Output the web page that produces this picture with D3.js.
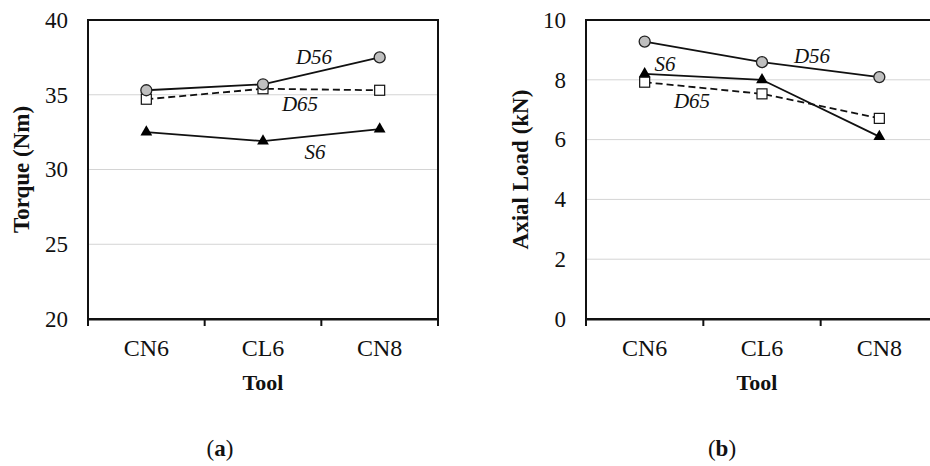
<!DOCTYPE html>
<html>
<head>
<meta charset="utf-8">
<script src="https://cdn.jsdelivr.net/npm/d3@7"></script>
<style>
  body { margin: 0; background: #fff; }
  svg { display: block; }
  svg text { font-family: "Liberation Serif", "Times New Roman", serif; fill: #111; }
</style>
</head>
<body>
<svg id="chart" width="930" height="466"></svg>
<script>
const tools = ['CN6', 'CL6', 'CN8'];

// panel (a) torque, Nm
const torqueD56 = [35.3, 35.7, 37.5];
const torqueD65 = [34.7, 35.4, 35.3];
const torqueS6 = [32.5, 31.9, 32.7];
const torqueTicks = [20, 25, 30, 35, 40];

// panel (b) axial load, kN
const loadD56 = [9.28, 8.59, 8.09];
const loadD65 = [7.92, 7.53, 6.71];
const loadS6 = [8.2, 8.0, 6.1];
const loadTicks = [0, 2, 4, 6, 8, 10];

const svg = d3.select('#chart');

function panel(opt) {
  const g = svg.append('g');
  const x = d3.scaleBand().domain(tools).range([opt.left, opt.right]);
  const y = d3.scaleLinear().domain(opt.domain).range([319, 20]);
  const cx = d => x(d) + x.bandwidth() / 2;

  // gridlines
  g.selectAll('.grid')
    .data(opt.ticks.slice(1, -1))
    .enter()
    .append('line')
    .attr('x1', opt.left)
    .attr('x2', opt.right)
    .attr('y1', d => y(d))
    .attr('y2', d => y(d))
    .attr('stroke', '#d4d4d4')
    .attr('stroke-width', 1);

  // frame
  g.append('rect')
    .attr('x', opt.left)
    .attr('y', y(opt.domain[1]))
    .attr('width', opt.right - opt.left)
    .attr('height', y(opt.domain[0]) - y(opt.domain[1]))
    .attr('fill', 'none')
    .attr('stroke', '#111')
    .attr('stroke-width', 2);

  // y axis labels
  const ya = g.append('g')
    .attr('transform', `translate(${opt.left},0)`)
    .call(d3.axisLeft(y).tickValues(opt.ticks).tickSize(0).tickPadding(20));
  ya.select('.domain').remove();
  ya.attr('font-family', null);
  ya.selectAll('text').attr('font-size', 23);

  // x axis
  const xa = g.append('g')
    .attr('transform', `translate(0,${y(opt.domain[0])})`)
    .call(d3.axisBottom(x).tickSize(0));
  xa.attr('font-family', null);
  xa.select('.domain').attr('stroke', '#111').attr('stroke-width', 2);
  xa.selectAll('text')
    .attr('font-size', 24)
    .attr('y', 37)
    .attr('dy', 0);
  g.selectAll('.xtick')
    .data(d3.range(tools.length + 1))
    .enter()
    .append('line')
    .attr('x1', i => opt.left + i * x.bandwidth())
    .attr('x2', i => opt.left + i * x.bandwidth())
    .attr('y1', y(opt.domain[0]))
    .attr('y2', y(opt.domain[0]) + 7)
    .attr('stroke', '#111')
    .attr('stroke-width', 2);

  g.append('text')
    .attr('x', (opt.left + opt.right) / 2 + (opt.toolShift || 0))
    .attr('y', 390)
    .attr('text-anchor', 'middle')
    .attr('font-weight', 'bold')
    .attr('font-size', 22)
    .text('Tool');

  g.append('text')
    .attr('transform', `translate(${opt.ylabelX},169.5) rotate(-90)`)
    .attr('text-anchor', 'middle')
    .attr('font-weight', 'bold')
    .attr('font-size', 23)
    .text(opt.ylabel);

  const caption = g.append('text')
    .attr('x', opt.captionX)
    .attr('y', 456)
    .attr('text-anchor', 'middle')
    .attr('font-size', 23);
  caption.append('tspan').text('(');
  caption.append('tspan').attr('font-weight', 'bold').text(opt.letter);
  caption.append('tspan').text(')');

  const line = d3.line().x((d, i) => cx(tools[i])).y(d => y(d));

  // S6
  g.append('path').datum(opt.s6).attr('d', line)
    .attr('fill', 'none').attr('stroke', '#111').attr('stroke-width', 1.8);
  g.selectAll('.tri').data(opt.s6).enter().append('path')
    .attr('d', d3.symbol(d3.symbolTriangle, 60))
    .attr('transform', (d, i) => `translate(${cx(tools[i])},${y(d)})`)
    .attr('fill', '#000');

  // D65
  g.append('path').datum(opt.d65).attr('d', line)
    .attr('fill', 'none').attr('stroke', '#111').attr('stroke-width', 1.8)
    .attr('stroke-dasharray', '7,4');
  g.selectAll('.sq').data(opt.d65).enter().append('rect')
    .attr('x', (d, i) => cx(tools[i]) - 5)
    .attr('y', d => y(d) - 5)
    .attr('width', 10)
    .attr('height', 10)
    .attr('fill', '#fff')
    .attr('stroke', '#111')
    .attr('stroke-width', 1.2);

  // D56
  g.append('path').datum(opt.d56).attr('d', line)
    .attr('fill', 'none').attr('stroke', '#111').attr('stroke-width', 1.8);
  g.selectAll('.circ').data(opt.d56).enter().append('circle')
    .attr('cx', (d, i) => cx(tools[i]))
    .attr('cy', d => y(d))
    .attr('r', 5.5)
    .attr('fill', '#bfbfbf')
    .attr('stroke', '#222')
    .attr('stroke-width', 1.3);

  // series labels
  g.selectAll('.lab').data(opt.labels).enter().append('text')
    .attr('x', d => d.x)
    .attr('y', d => d.y)
    .attr('text-anchor', 'middle')
    .attr('font-style', 'italic')
    .attr('font-size', 21)
    .text(d => d.t);
}

panel({
  left: 88, right: 438, domain: [20, 40], ticks: torqueTicks,
  d56: torqueD56, d65: torqueD65, s6: torqueS6,
  ylabel: 'Torque (Nm)', ylabelX: 29, captionX: 220, letter: 'a',
  labels: [{ t: 'D56', x: 314, y: 64 }, { t: 'D65', x: 300, y: 111 }, { t: 'S6', x: 315, y: 159 }]
});

panel({
  left: 586, right: 938, domain: [0, 10], ticks: loadTicks,
  d56: loadD56, d65: loadD65, s6: loadS6, toolShift: -5,
  ylabel: 'Axial Load (kN)', ylabelX: 528, captionX: 722, letter: 'b',
  labels: [{ t: 'D56', x: 812, y: 63 }, { t: 'S6', x: 665, y: 71 }, { t: 'D65', x: 692, y: 108 }]
});
</script>
</body>
</html>
